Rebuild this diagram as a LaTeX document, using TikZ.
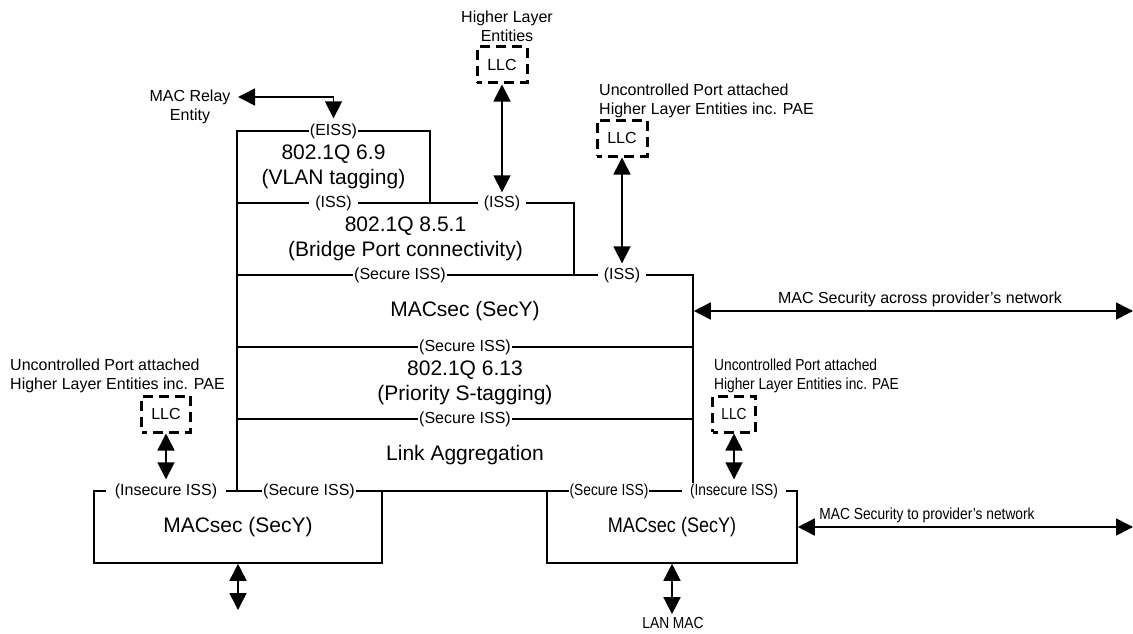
\documentclass[tikz,border=0pt]{standalone}
\usepackage{fontspec}
\setmainfont{Liberation Sans}
\usepackage{graphicx}
\usetikzlibrary{arrows.meta}
\newcommand\nartext[1]{\scalebox{0.86}[1]{#1}}
\begin{document}
\begin{tikzpicture}[x=1pt,y=-1pt,
  big/.style={font=\fontsize{21}{25.5}\selectfont},
  small/.style={font=\fontsize{16}{19}\selectfont},
  box/.style={draw, line width=1.6pt, inner sep=0pt, align=center, big, minimum height=72pt},
  port/.style={fill=white, inner xsep=1pt, inner ysep=1pt, small},
  portgap/.style={port, inner xsep=6pt},
  portwide/.style={port, inner xsep=9pt},
  llcbox/.style={draw, line width=3pt, dash pattern=on 10pt off 6pt, dash phase=5pt, minimum height=36pt, small, inner sep=0pt},
  dbl/.style={line width=1.6pt, {Triangle[length=17pt 0 0,width=17pt 0 0]}-{Triangle[length=17pt 0 0,width=17pt 0 0]}},
  lbl/.style={small, inner sep=0pt}
]
\useasboundingbox (0,0) rectangle (1133,634);

% layer boxes
\node[box, minimum width=193pt] (vlan) at (333.5,167) {802.1Q 6.9\\(VLAN tagging)};
\node[box, minimum width=337pt] (bridge) at (405.5,239) {802.1Q 8.5.1\\(Bridge Port connectivity)};
\node[box, minimum width=456pt] (macsec) at (465,311) {MACsec (SecY)};
\node[box, minimum width=456pt] (prio) at (465,383) {802.1Q 6.13\\(Priority S-tagging)};
\node[box, minimum width=456pt] (linkagg) at (465,455) {Link Aggregation};
\node[box, minimum width=288pt] (secyL) at (238,527) {MACsec (SecY)};
\node[box, minimum width=250pt] (secyR) at (672,527) {\nartext{MACsec (SecY)}};

% service interface labels
\node[port] (eiss) at (333.5,131) {(EISS)};
\node[portgap] (iss1) at (333.5,203) {(ISS)};
\node[portgap] (iss2) at (502,203) {(ISS)};
\node[port] (sec1) at (400,275) {(Secure ISS)};
\node[portgap] (iss3) at (622,275) {(ISS)};
\node[port] (sec2) at (465,347) {(Secure ISS)};
\node[port] (sec3) at (465,419) {(Secure ISS)};
\node[portwide] (insecL) at (166,491) {(Insecure ISS)};
\node[port] (secL) at (309,491) {(Secure ISS)};
\node[port] (secR) at (609,491) {\nartext{(Secure ISS)}};
\node[portwide, inner xsep=8pt] (insecR) at (734,491) {\nartext{(Insecure ISS)}};

% LLC boxes
\node[llcbox, minimum width=50pt] (llcT) at (502,65) {LLC};
\node[llcbox, minimum width=50pt] (llcR) at (622,138) {LLC};
\node[llcbox, minimum width=49pt] (llcL) at (166,414) {LLC};
\node[llcbox, minimum width=43pt] (llcBR) at (734,414) {\nartext{LLC}};

% free texts
\node[lbl, align=center] (hle) at (507,26) {Higher Layer\\Entities};
\node[lbl, align=center] (relay) at (190,107) {MAC Relay\\Entity};
\node[lbl, align=left, anchor=west] (uncT) at (599,101) {Uncontrolled Port attached\\Higher Layer Entities inc. PAE};
\node[lbl, align=left, anchor=west] (uncL) at (10,376) {Uncontrolled Port attached\\Higher Layer Entities inc. PAE};
\node[lbl, anchor=west] (uncR) at (714,376) {\nartext{\begin{tabular}{@{}l@{}}Uncontrolled Port attached\\Higher Layer Entities inc. PAE\end{tabular}}};
\node[lbl] (across) at (920,299) {MAC Security across provider's network};
\node[lbl] (tonet) at (927,515) {\nartext{MAC Security to provider's network}};
\node[lbl] (lanmac) at (673,623) {\nartext{LAN MAC}};

% connectors
\coordinate (relaytip) at (238,97);
\coordinate (downL) at (238,610);
\coordinate (acrossend) at (1133,311);
\coordinate (tonetend) at (1133,527);
\draw[dbl, shorten >=4pt] (relaytip) -| (eiss.north);
\draw[dbl, shorten >=2pt] (llcT.south) -- (llcT.south |- iss2.north);
\draw[dbl, shorten >=3pt] (llcR.south) -- (llcR.south |- iss3.north);
\draw[dbl, shorten >=3pt] (llcL.south) -- (llcL.south |- insecL.north);
\draw[dbl, shorten >=3pt] (llcBR.south) -- (llcBR.south |- insecR.north);
\draw[dbl] (secyL.south) -- (downL);
\draw[dbl, shorten >=3pt] (secyR.south) -- (secyR.south |- lanmac.north);
\draw[dbl] (macsec.east) -- (acrossend);
\draw[dbl] (secyR.east) -- (tonetend);
\end{tikzpicture}
\end{document}
